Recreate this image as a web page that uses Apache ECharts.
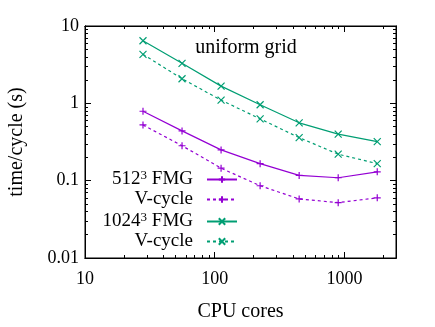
<!DOCTYPE html>
<html>
<head>
<meta charset="utf-8">
<script src="https://cdn.jsdelivr.net/npm/echarts@6/dist/echarts.min.js"></script>
<style>
  html, body { margin: 0; padding: 0; background: #fff; }
  #chart { width: 435px; height: 327px; }
</style>
</head>
<body>
<div id="chart"></div>
<script>
// data
const cores = [28, 56, 112, 224, 448, 896, 1792]
const fmg512 = [0.79, 0.44, 0.25, 0.166, 0.117, 0.109, 0.13]
const vcycle512 = [0.525, 0.283, 0.145, 0.086, 0.058, 0.052, 0.060]
const fmg1024 = [6.45, 3.29, 1.67, 0.96, 0.56, 0.40, 0.32]
const vcycle1024 = [4.3, 2.08, 1.10, 0.63, 0.36, 0.22, 0.166]

const xMajorTicks = [10, 100, 1000]
const yMajorTicks = [0.01, 0.1, 1, 10]
const xMinorTicks = [20, 30, 40, 50, 60, 70, 80, 90, 200, 300, 400, 500, 600, 700, 800, 900, 2000]
const yMinorTicks = [0.02, 0.03, 0.04, 0.05, 0.06, 0.07, 0.08, 0.09,
  0.2, 0.3, 0.4, 0.5, 0.6, 0.7, 0.8, 0.9, 2, 3, 4, 5, 6, 7, 8, 9]

const purple = '#9400d3'
const green = '#009e73'
const FONT = '"Liberation Serif", "DejaVu Serif", serif'

const plusPath = 'path://M0,4L8,4M4,0L4,8'
const crossPath = 'path://M0,0L8,8M8,0L0,8'

const pairs = ys => cores.map((c, i) => [c, ys[i]])

function lineSeries(name, ys, color, symbol, dashed) {
  return {
    name,
    type: 'line',
    xAxisIndex: 0,
    yAxisIndex: 0,
    data: pairs(ys),
    color,
    symbol,
    symbolSize: 7,
    showSymbol: true,
    lineStyle: { color, width: 1.2, type: dashed ? [3, 3] : 'solid' },
    itemStyle: { color, borderColor: color, borderWidth: 1.2 },
    emphasis: { disabled: true },
  }
}

const series = [
  lineSeries('512 FMG', fmg512, purple, plusPath, false),
  lineSeries('512 V-cycle', vcycle512, purple, plusPath, true),
  lineSeries('1024 FMG', fmg1024, green, crossPath, false),
  lineSeries('1024 V-cycle', vcycle1024, green, crossPath, true),
]

const legendLabels = {
  '512 FMG': '512{sup|3} FMG',
  '512 V-cycle': 'V-cycle',
  '1024 FMG': '1024{sup|3} FMG',
  '1024 V-cycle': 'V-cycle',
}

const legendRowsY = [169, 190, 211, 232]

const box = { left: 85, right: 39, top: 26, bottom: 69, outerBoundsMode: 'none' }
// grid 0 carries the frame, labels and series; grids 1-4 only carry tick marks
const grids = [
  { ...box, show: true, borderColor: '#000', borderWidth: 1, backgroundColor: 'transparent' },
  { ...box, show: false },
  { ...box, show: false },
  { ...box, show: false },
  { ...box, show: false },
]

function tickAxis(dim, gridIndex, position, major) {
  return {
    type: 'log',
    gridIndex,
    position,
    min: dim === 'x' ? 10 : 0.01,
    max: dim === 'x' ? 2500 : 10,
    axisLine: { show: true, onZero: false, lineStyle: { color: '#000', width: 1 } },
    axisTick: {
      show: true,
      inside: true,
      length: major ? 6 : 3,
      customValues: major
        ? (dim === 'x' ? xMajorTicks : yMajorTicks)
        : (dim === 'x' ? xMinorTicks : yMinorTicks),
      lineStyle: { color: '#000', width: 1 },
    },
    axisLabel: { show: false },
    splitLine: { show: false },
  }
}

const xMain = {
  type: 'log',
  gridIndex: 0,
  position: 'bottom',
  min: 10,
  max: 2500,
  name: 'CPU cores',
  nameLocation: 'middle',
  nameGap: 44,
  nameTextStyle: { fontFamily: FONT, fontSize: 20, color: '#000' },
  axisLine: { show: false, onZero: false },
  axisTick: { show: false },
  splitLine: { show: false },
  axisLabel: {
    show: true, fontFamily: FONT, fontSize: 18, color: '#000', margin: 12,
    customValues: xMajorTicks,
    formatter: v => String(v),
  },
}

const yMain = {
  type: 'log',
  gridIndex: 0,
  position: 'left',
  min: 0.01,
  max: 10,
  name: 'time/cycle (s)',
  nameLocation: 'middle',
  nameGap: 58,
  nameTextStyle: { fontFamily: FONT, fontSize: 20, color: '#000' },
  axisLine: { show: false, onZero: false },
  axisTick: { show: false },
  splitLine: { show: false },
  axisLabel: {
    show: true, fontFamily: FONT, fontSize: 18, color: '#000', margin: 6,
    customValues: yMajorTicks,
    formatter: v => String(v),
  },
}

const chart = echarts.init(document.getElementById('chart'))

chart.setOption({
  animation: false,
  textStyle: { fontFamily: FONT },
  title: {
    text: 'uniform grid',
    left: 241,
    top: 33,
    textAlign: 'center',
    textStyle: { fontFamily: FONT, fontSize: 20, fontWeight: 'normal', color: '#000' },
  },
  grid: grids,
  xAxis: [
    xMain,
    tickAxis('x', 1, 'bottom', true),
    tickAxis('x', 2, 'top', true),
    tickAxis('x', 3, 'bottom', false),
    tickAxis('x', 4, 'top', false),
  ],
  yAxis: [
    yMain,
    tickAxis('y', 1, 'left', true),
    tickAxis('y', 2, 'right', true),
    tickAxis('y', 3, 'left', false),
    tickAxis('y', 4, 'right', false),
  ],
  legend: series.map((s, i) => ({
    data: [s.name],
    orient: 'vertical',
    right: 435 - 238,
    top: legendRowsY[i],
    padding: 0,
    align: 'right',
    itemWidth: 30,
    itemHeight: 8,
    selectedMode: false,
    formatter: name => legendLabels[name],
    textStyle: {
      fontFamily: FONT,
      fontSize: 19,
      color: '#000',
      padding: [0, 9, 0, 0],
      rich: {
        sup: { fontFamily: FONT, fontSize: 13, verticalAlign: 'top', padding: [0, 0, 8, 0] },
      },
    },
  })),
  series,
})
</script>
</body>
</html>
